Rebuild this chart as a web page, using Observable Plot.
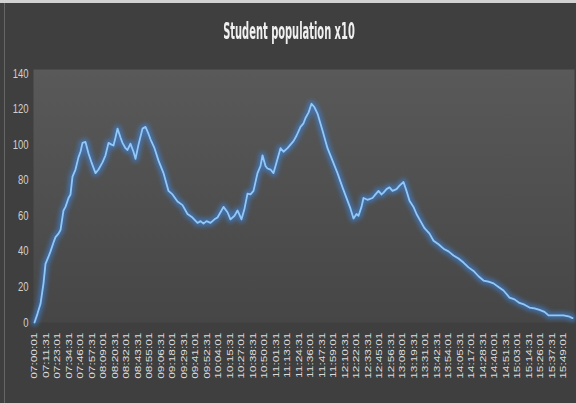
<!DOCTYPE html>
<html>
<head>
<meta charset="utf-8">
<script src="https://cdn.jsdelivr.net/npm/d3@7"></script>
<script src="https://cdn.jsdelivr.net/npm/@observablehq/plot@0.6"></script>
<style>
  html, body { margin: 0; padding: 0; background: #3f3f3f; }
  #wrap { position: relative; width: 576px; height: 403px; overflow: hidden; background: #3f3f3f; }
  #topline { position: absolute; left: 0; top: 0; width: 576px; height: 3px; background: #d2d2d2; }
  #leftline { position: absolute; left: 4px; top: 3px; width: 1px; height: 400px; background: #666; }
  #title {
    position: absolute; left: 0; top: 21px; width: 578px; text-align: center;
    font-family: "Liberation Sans Narrow", "DejaVu Sans Condensed", sans-serif;
    font-weight: bold; font-size: 11px; line-height: 11px; color: #f0f0f0;
    transform: scaleY(2.05); transform-origin: 50% 0;
  }
  #chart { position: absolute; left: 0; top: 55px; }
</style>
</head>
<body>
<div id="wrap">
  <div id="topline"></div>
  <div id="leftline"></div>
  <div id="title">Student population x10</div>
  <div id="chart"></div>
</div>
<script>
// minutes after 07:00 and the student population (x10)
const minutesAfter7 = [
  0, 3, 6, 9, 11, 14, 16, 19, 21, 24,
  26, 29, 31, 34, 36, 38, 41, 44, 46, 48,
  51, 54, 57, 61, 64, 68, 71, 74, 77, 79,
  81, 83, 86, 88, 91, 93, 96, 99, 101, 104,
  108, 111, 114, 116, 120, 124, 129, 134, 138, 143,
  148, 153, 158, 163, 166, 169, 172, 176, 180, 183,
  186, 189, 193, 196, 200, 203, 207, 210, 213, 216,
  219, 223, 226, 228, 231, 233, 236, 239, 242, 246,
  249, 253, 256, 259, 262, 266, 269, 271, 274, 277,
  280, 283, 288, 293, 298, 303, 308, 313, 316, 319,
  322, 324, 327, 329, 333, 338, 341, 344, 347, 349,
  352, 355, 358, 362, 365, 369, 372, 375, 379, 382,
  386, 390, 395, 399, 404, 409, 414, 419, 424, 429,
  434, 439, 444, 449, 454, 459, 464, 469, 472, 475,
  480, 485, 490, 495, 500, 505, 510, 514, 520, 525,
  529, 534, 538
];
const population = [
  0, 5, 10.5, 22, 33, 37, 40, 45, 48, 50,
  52, 63, 65, 70, 72, 82, 86, 93, 96, 101,
  101.5, 95, 90, 84, 86, 90, 94, 101, 100, 99.5,
  104, 109, 104, 101, 98, 97, 100.5, 96, 92, 100,
  109, 110, 106, 103, 98, 91, 84, 74, 72, 68,
  66, 61, 59, 56, 57, 55.6, 57, 56, 58, 59,
  62, 65, 62, 58, 60, 63, 58, 64, 72.5, 72,
  74, 84, 88, 94, 88, 86.6, 86, 84, 90, 98,
  96, 98, 100, 102, 105, 110, 112, 115, 118, 123,
  121, 117.5, 108, 98, 91, 84, 76, 68.5, 64, 58.5,
  61, 60, 65, 70, 69, 70, 72, 74, 72, 73,
  75, 76, 74, 75, 77, 79, 74, 68.5, 65, 61,
  57, 53, 50, 46, 44, 41.5, 40, 37.7, 36, 33.7,
  31, 29, 26, 23.6, 23, 22, 20, 18, 16, 14,
  13, 11, 10, 8.4, 8, 7.1, 6, 4, 4, 4,
  4, 3.5, 2.5
];
const xTickLabels = [
  "07:00:01","07:11:31","07:23:01","07:34:31","07:46:01","07:57:31","08:09:01","08:20:31",
  "08:32:01","08:43:31","08:55:01","09:06:31","09:18:01","09:29:31","09:41:01","09:52:31",
  "10:04:01","10:15:31","10:27:01","10:38:31","10:50:01","11:01:31","11:13:01","11:24:31",
  "11:36:01","11:47:31","11:59:01","12:10:31","12:22:01","12:33:31","12:45:01","12:56:31",
  "13:08:01","13:19:31","13:31:01","13:42:31","13:54:01","14:05:31","14:17:01","14:28:31",
  "14:40:01","14:51:31","15:03:01","15:14:31","15:26:01","15:37:31","15:49:01"
];
const yTicks = [0, 20, 40, 60, 80, 100, 120, 140];

const data = minutesAfter7.map((m, i) => ({m, v: population[i]}));
const toMinutes = s => { const [h, mi, se] = s.split(":").map(Number); return (h - 7) * 60 + mi + se / 60; };
const tickPos = xTickLabels.map(toMinutes);
const labelAt = new Map(tickPos.map((p, i) => [p, xTickLabels[i]]));

const chart = Plot.plot({
  width: 576,
  height: 348,
  marginLeft: 33,
  marginRight: 2,
  marginTop: 14,
  marginBottom: 81,
  style: {background: "transparent", color: "#d8d8d8", fontFamily: "'Liberation Sans', Arial, sans-serif"},
  x: {domain: [0, 540], insetLeft: 1, ticks: tickPos, tickFormat: d => labelAt.get(d), tickRotate: -90, tickSize: 0, tickPadding: 10, label: null},
  y: {domain: [0, 140], ticks: yTicks, insetTop: 4, tickSize: 0, tickPadding: 5, label: null},
  marks: [
    Plot.frame({fill: "url(#panelGrad)", stroke: "none"}),
    Plot.line(data, {x: "m", y: "v", stroke: "#3a86e0", strokeWidth: 7, strokeOpacity: 0.6, strokeLinejoin: "round"}),
    Plot.line(data, {x: "m", y: "v", stroke: "#92c8f8", strokeWidth: 1.8, strokeLinejoin: "round"})
  ]
});

// gradient for the plot panel and a glow filter for the line
const NS = "http://www.w3.org/2000/svg";
const defs = document.createElementNS(NS, "defs");
defs.innerHTML = `
  <linearGradient id="panelGrad" x1="0" y1="0" x2="0" y2="1">
    <stop offset="0" stop-color="#595959"/>
    <stop offset="1" stop-color="#464646"/>
  </linearGradient>
  <filter id="glow" x="-10%" y="-10%" width="120%" height="120%">
    <feGaussianBlur stdDeviation="2.2"/>
  </filter>`;
chart.insertBefore(defs, chart.firstChild);
const lines = chart.querySelectorAll('g[aria-label="line"]');
if (lines.length) lines[0].setAttribute("filter", "url(#glow)");

function stretch(t, sx, sy) {
  const tr = t.getAttribute("transform");
  if (tr) t.setAttribute("transform", tr + ` scale(${sx},${sy})`);
  else {
    const x = +t.getAttribute("x") || 0, y = +t.getAttribute("y") || 0;
    t.setAttribute("transform", `translate(${x},${y}) scale(${sx},${sy}) translate(${-x},${-y})`);
  }
}
const xg = chart.querySelector('g[aria-label="x-axis tick label"]');
if (xg) { xg.setAttribute("font-size", "8.4"); xg.setAttribute("fill", "#dcdcdc"); xg.querySelectorAll("text").forEach(t => stretch(t, 1.42, 1)); }
const yg = chart.querySelector('g[aria-label="y-axis tick label"]');
if (yg) { yg.setAttribute("font-size", "9.5"); yg.setAttribute("fill", "#d0d0d0"); yg.querySelectorAll("text").forEach(t => stretch(t, 1, 1.35)); }

document.getElementById("chart").appendChild(chart);
</script>
</body>
</html>
